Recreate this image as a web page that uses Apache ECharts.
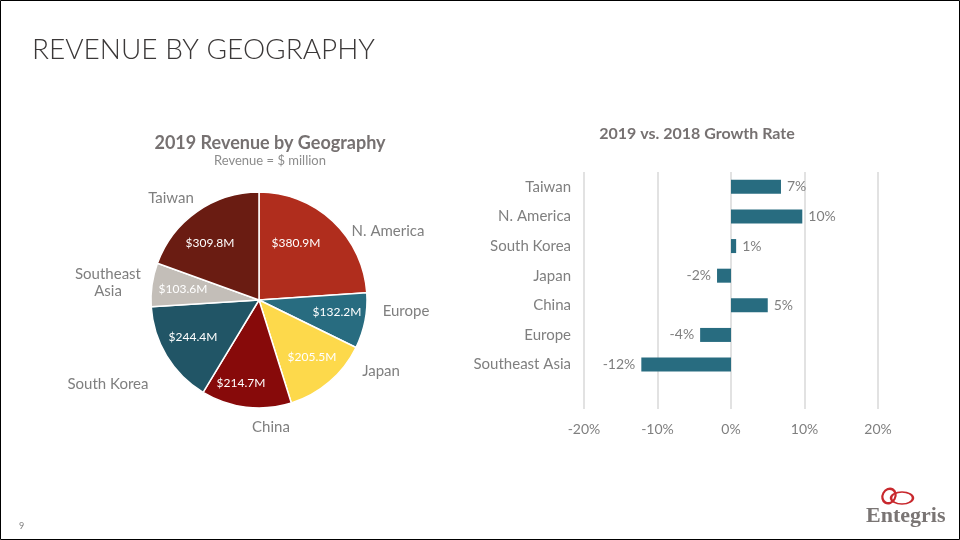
<!DOCTYPE html>
<html>
<head>
<meta charset="utf-8">
<script src="https://cdn.jsdelivr.net/npm/echarts@6/dist/echarts.min.js"></script>
<style>
  html, body { margin: 0; padding: 0; background: #fff; }
  #chart { width: 960px; height: 540px; }
</style>
</head>
<body>
<div id="chart"></div>
<script>
// pie: 2019 revenue ($ million), clockwise from 12 o'clock
var pieNames = ["N. America", "Europe", "Japan", "China", "South Korea", "Southeast\nAsia", "Taiwan"];
var pieValues = [380.9, 132.2, 205.5, 214.7, 244.4, 103.6, 309.8];
var pieColors = ["#B02D1D", "#286C80", "#FDD94B", "#870A0A", "#215566", "#C3BEB8", "#6A1C12"];

// bars: 2019 vs 2018 growth rate (%), blank slot at the bottom like the original
var growthCats = ["Taiwan", "N. America", "South Korea", "Japan", "China", "Europe", "Southeast Asia", ""];
var growthValues = [6.8, 9.7, 0.7, -1.9, 5.0, -4.2, -12.2, null];
var growthTicks = [-20, -10, 0, 10, 20];

var FONT = "Lato";
var GRAY = "#7F7F7F";

// label spots copied from the slide (Excel's "best fit" placement)
var outerSpots = [[388, 231], [406, 311], [381, 371], [271, 427], [108, 384], [108, 283], [171, 198]];
var innerSpots = [[296, 243], [337, 312], [312, 357], [241, 383], [193, 337], [183, 289], [210, 243]];

var chart = echarts.init(document.getElementById("chart"));

var pieData = pieNames.map(function (n, i) {
  return { name: n, value: pieValues[i], itemStyle: { color: pieColors[i] } };
});

var barData = growthValues.map(function (v) {
  if (v === null) return null;
  return { value: v, label: { position: v < 0 ? "left" : "right" } };
});

function spotLayout(spots) {
  return function (p) {
    var s = spots[p.dataIndex];
    return { x: s[0], y: s[1], align: "center", verticalAlign: "middle" };
  };
}

var option = {
  backgroundColor: "#fff",
  animation: false,
  textStyle: { fontFamily: FONT },
  title: [
    {
      text: "REVENUE BY GEOGRAPHY",
      left: 27, top: 31,
      textStyle: { fontFamily: FONT, fontSize: 28, fontWeight: 300, color: "#3B3838" }
    },
    {
      text: "2019 Revenue by Geography",
      subtext: "Revenue = $ million",
      left: 265, top: 129, textAlign: "center", itemGap: 2,
      textStyle: { fontFamily: FONT, fontSize: 18, fontWeight: "bold", color: "#767171" },
      subtextStyle: { fontFamily: FONT, fontSize: 13, color: "#8C8C8C" }
    },
    {
      text: "2019 vs. 2018 Growth Rate",
      left: 692, top: 121, textAlign: "center",
      textStyle: { fontFamily: FONT, fontSize: 16, fontWeight: "bold", color: "#767171" }
    }
  ],
  grid: { left: 584, right: 82, top: 172, bottom: 131 },
  xAxis: {
    type: "value",
    min: growthTicks[0],
    max: growthTicks[growthTicks.length - 1],
    interval: 10,
    axisLine: { show: false },
    axisTick: { show: false },
    axisLabel: { formatter: "{value}%", color: GRAY, fontSize: 14, margin: 13, fontFamily: FONT },
    splitLine: { show: true, lineStyle: { color: "#D9D9D9", width: 1.5 } }
  },
  yAxis: {
    type: "category",
    data: growthCats,
    inverse: true,
    axisLine: { show: false },
    axisTick: { show: false },
    axisLabel: { color: GRAY, fontSize: 15, margin: 13, fontFamily: FONT }
  },
  series: [
    {
      type: "pie",
      center: [259, 300],
      radius: 108,
      startAngle: 90,
      clockwise: true,
      silent: true,
      itemStyle: { borderColor: "#fff", borderWidth: 1.5 },
      label: { show: true, position: "outside", color: GRAY, fontSize: 15, fontFamily: FONT, lineHeight: 17, align: "center" },
      labelLine: { show: false },
      labelLayout: spotLayout(outerSpots),
      data: pieData
    },
    {
      // value labels only
      type: "pie",
      center: [259, 300],
      radius: [32, 108],
      startAngle: 90,
      clockwise: true,
      silent: true,
      itemStyle: { color: "rgba(0,0,0,0)" },
      label: {
        show: true, position: "inside", color: "#fff", fontSize: 12, fontFamily: FONT,
        formatter: function (p) { return "$" + p.value.toFixed(1) + "M"; }
      },
      labelLine: { show: false },
      labelLayout: spotLayout(innerSpots),
      data: pieValues.map(function (v) { return { value: v }; })
    },
    {
      type: "bar",
      barWidth: 14,
      itemStyle: { color: "#286C80" },
      label: {
        show: true, color: GRAY, fontSize: 14, fontFamily: FONT, distance: 6,
        formatter: function (p) { return Math.round(p.value) + "%"; }
      },
      data: barData
    }
  ],
  graphic: [
    {
      type: "rect", silent: true,
      shape: { x: 0.5, y: 0.5, width: 959, height: 539 },
      style: { fill: "none", stroke: "#000", lineWidth: 1 }
    },
    {
      type: "text", left: 19, top: 522,
      style: { text: "9", fill: GRAY, font: "9px " + FONT }
    },
    {
      type: "circle", silent: true,
      shape: { cx: 889, cy: 496, r: 7.5 }, scaleX: 0.85, originX: 889, originY: 496, rotation: -0.5,
      style: { fill: "none", stroke: "#C8282D", lineWidth: 2.5 }
    },
    {
      type: "circle", silent: true,
      shape: { cx: 902, cy: 498, r: 11 }, scaleY: 0.55, originX: 902, originY: 498,
      style: { fill: "none", stroke: "#C8282D", lineWidth: 2.5 }
    },
    {
      type: "text", left: 866, top: 505,
      style: { text: "Entegris", fill: "#7A7574", font: "bold 22px 'Liberation Serif'" }
    }
  ]
};

chart.setOption(option);
</script>
</body>
</html>
